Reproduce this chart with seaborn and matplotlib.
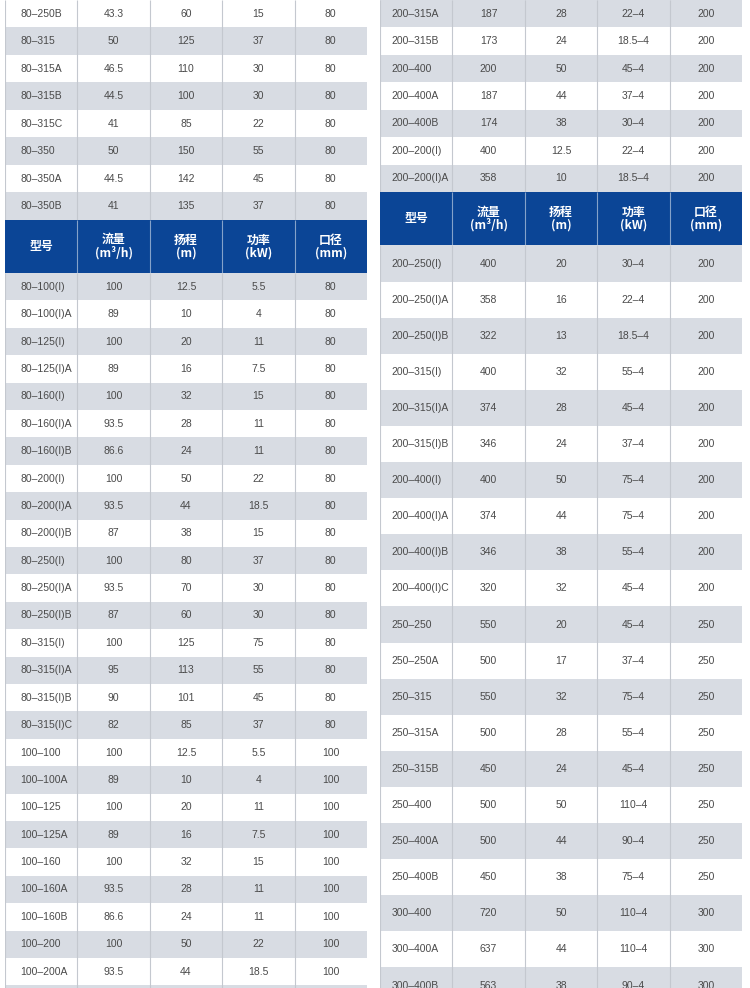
import numpy as np
import matplotlib
matplotlib.use("Agg")
import matplotlib.pyplot as plt
import seaborn as sns
from matplotlib.colors import ListedColormap

# header of every table block
col_names = ["型号", "流量\n(m³/h)", "扬程\n(m)", "功率\n(kW)", "口径\n(mm)"]

# left table, rows above the header
lt_model = ["80–250B", "80–315", "80–315A", "80–315B", "80–315C", "80–350", "80–350A", "80–350B"]
lt_flow = [43.3, 50, 46.5, 44.5, 41, 50, 44.5, 41]
lt_head = [60, 125, 110, 100, 85, 150, 142, 135]
lt_power = [15, 37, 30, 30, 22, 55, 45, 37]
lt_bore = [80, 80, 80, 80, 80, 80, 80, 80]

# left table, rows below the header
lb_model = ["80–100(I)", "80–100(I)A", "80–125(I)", "80–125(I)A", "80–160(I)", "80–160(I)A",
            "80–160(I)B", "80–200(I)", "80–200(I)A", "80–200(I)B", "80–250(I)", "80–250(I)A",
            "80–250(I)B", "80–315(I)", "80–315(I)A", "80–315(I)B", "80–315(I)C", "100–100",
            "100–100A", "100–125", "100–125A", "100–160", "100–160A", "100–160B", "100–200",
            "100–200A"]
lb_flow = [100, 89, 100, 89, 100, 93.5, 86.6, 100, 93.5, 87, 100, 93.5, 87, 100, 95, 90, 82,
           100, 89, 100, 89, 100, 93.5, 86.6, 100, 93.5]
lb_head = [12.5, 10, 20, 16, 32, 28, 24, 50, 44, 38, 80, 70, 60, 125, 113, 101, 85,
           12.5, 10, 20, 16, 32, 28, 24, 50, 44]
lb_power = [5.5, 4, 11, 7.5, 15, 11, 11, 22, 18.5, 15, 37, 30, 30, 75, 55, 45, 37,
            5.5, 4, 11, 7.5, 15, 11, 11, 22, 18.5]
lb_bore = [80] * 17 + [100] * 9

# right table, rows above the header
rt_model = ["200–315A", "200–315B", "200–400", "200–400A", "200–400B", "200–200(I)", "200–200(I)A"]
rt_flow = [187, 173, 200, 187, 174, 400, 358]
rt_head = [28, 24, 50, 44, 38, 12.5, 10]
rt_power = ["22–4", "18.5–4", "45–4", "37–4", "30–4", "22–4", "18.5–4"]
rt_bore = [200, 200, 200, 200, 200, 200, 200]

# right table, rows below the header
rb_model = ["200–250(I)", "200–250(I)A", "200–250(I)B", "200–315(I)", "200–315(I)A",
            "200–315(I)B", "200–400(I)", "200–400(I)A", "200–400(I)B", "200–400(I)C",
            "250–250", "250–250A", "250–315", "250–315A", "250–315B", "250–400",
            "250–400A", "250–400B", "300–400", "300–400A", "300–400B"]
rb_flow = [400, 358, 322, 400, 374, 346, 400, 374, 346, 320, 550, 500, 550, 500, 450,
           500, 500, 450, 720, 637, 563]
rb_head = [20, 16, 13, 32, 28, 24, 50, 44, 38, 32, 20, 17, 32, 28, 24, 50, 44, 38, 50, 44, 38]
rb_power = ["30–4", "22–4", "18.5–4", "55–4", "45–4", "37–4", "75–4", "75–4", "55–4", "45–4",
            "45–4", "37–4", "75–4", "55–4", "45–4", "110–4", "90–4", "75–4", "110–4",
            "110–4", "90–4"]
rb_bore = [200] * 10 + [250] * 8 + [300] * 3

W, H = 750, 988
BLUE = "#0b4596"
GRAY = "#d8dce3"
LINE = "#c4c8cf"
TEXT = "#4a4a4a"

sns.set_theme(style="white")
plt.rcParams["font.family"] = ["Liberation Sans", "Noto Sans CJK SC", "DejaVu Sans"]


def fmt(v):
    return v if isinstance(v, str) else f"{v:g}"


def place(fig, x0, y0, w, h):
    # pixel box (top-left origin) -> figure axes
    return fig.add_axes([x0 / W, 1 - (y0 + h) / H, w / W, h / H])


def draw_rows(fig, x0, y0, width, row_h, cols, first_gray, pad, blank_rows=0):
    n = len(cols[0]) + blank_rows
    ax = place(fig, x0, y0, width, n * row_h)
    stripes = np.array([[int((i % 2 == 0) == first_gray)] * 5 for i in range(n)])
    sns.heatmap(stripes, ax=ax, cmap=ListedColormap(["white", GRAY]), vmin=0, vmax=1,
                cbar=False, xticklabels=False, yticklabels=False)
    ax.vlines(range(0, 5), 0, n, color=LINE, lw=0.8)
    for i, row in enumerate(zip(*cols)):
        ax.text(pad, i + 0.5, row[0], ha="left", va="center", color=TEXT, fontsize=7.5)
        for j, v in enumerate(row[1:], start=1):
            ax.text(j + 0.5, i + 0.5, fmt(v), ha="center", va="center", color=TEXT, fontsize=7.5)


def draw_header(fig, x0, y0, width, height):
    ax = place(fig, x0, y0, width, height)
    sns.heatmap(np.zeros((1, 5)), ax=ax, cmap=ListedColormap([BLUE]), cbar=False,
                xticklabels=False, yticklabels=False)
    ax.vlines(range(1, 5), 0, 1, color="white", alpha=0.5, lw=0.8)
    for j, name in enumerate(col_names):
        ax.text(j + 0.5, 0.5, name, ha="center", va="center", color="white",
                fontsize=8.6, fontweight="bold", linespacing=1.0,
                family=["Noto Sans CJK SC", "DejaVu Sans"])


fig = plt.figure(figsize=(W / 100, H / 100), dpi=100)
fig.patch.set_facecolor("white")

# left table
draw_rows(fig, 5, 0, 362, 27.5, [lt_model, lt_flow, lt_head, lt_power, lt_bore], False, 0.21)
draw_header(fig, 5, 220, 362, 53)
draw_rows(fig, 5, 273, 362, 27.4, [lb_model, lb_flow, lb_head, lb_power, lb_bore], True, 0.21,
          blank_rows=1)

# right table
draw_rows(fig, 380, 0, 362, 27.43, [rt_model, rt_flow, rt_head, rt_power, rt_bore], True, 0.16)
draw_header(fig, 380, 192, 362, 53.5)
draw_rows(fig, 380, 245.5, 362, 36.1, [rb_model, rb_flow, rb_head, rb_power, rb_bore], True, 0.16)

fig.savefig("out.png", dpi=100)
